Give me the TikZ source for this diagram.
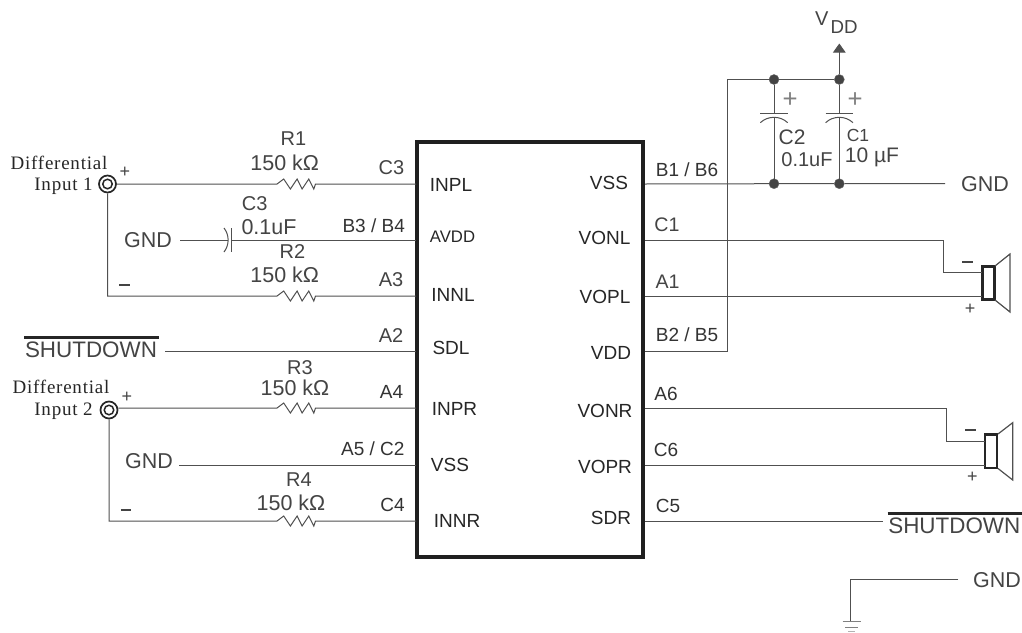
\documentclass[tikz,border=0pt]{standalone}
\usepackage{fontspec}
\setmainfont{Liberation Sans}
\newfontfamily\serifcap[LetterSpace=4]{Liberation Serif}
\usetikzlibrary{arrows.meta}
\definecolor{ink}{HTML}{444444}
\definecolor{wirec}{HTML}{505050}
\newcommand{\rzig}{-- ++(6.7,-5) -- ++(6.7,10) -- ++(6.7,-10) -- ++(5,10) -- ++(6.7,-10) -- ++(5,10) -- ++(1.7,-5)}
\tikzset{
  wire/.style={draw=wirec,line width=1pt,line cap=butt,line join=miter},
  lab/.style={inner sep=0pt,text=ink,font=\fontsize{21.5}{24}\selectfont},
  smalllab/.style={inner sep=0pt,text=black!80,font=\fontsize{19}{22}\selectfont},
  pinname/.style={inner sep=0pt,text=black!85,font=\fontsize{19}{22}\selectfont},
  diff/.style={inner sep=0pt,text=black!85,font=\serifcap\fontsize{19}{21}\selectfont},
  dot/.style={circle,fill=ink,draw=black!60,minimum size=10pt,inner sep=0pt},
  sign/.style={inner sep=0pt,text=ink,font=\fontsize{18}{20}\selectfont},
  minus/.style={inner sep=0pt,text=ink},
  chipbox/.style={draw=black!88,line width=3.6pt,minimum width=226pt,minimum height=415pt,inner sep=0pt},
  jack/.style={circle,draw=black!85,line width=1.7pt,minimum size=17pt,inner sep=0pt},
  jackin/.style={circle,draw=black!85,line width=1.5pt,minimum size=9.5pt,inner sep=0pt},
  over/.style={line width=3pt,draw=black!85},
  spk/.style={draw=black!85,line width=2.7pt},
}
\begin{document}
\begin{tikzpicture}[x=1pt,y=-1pt]
\useasboundingbox[fill=white] (0,0) rectangle (1022,632);
% chip
\node[chipbox] (chip) at (530,349.5) {};
\foreach \n/\y in {a/184,b/240,c/296,d/351,e/408,f/465,g/521}{
  \coordinate (L\n) at (416,\y);
  \coordinate (R\n) at (645,\y);
}
% pin names
\node[pinname] (pINPL) at (451,185) {INPL};
\node[pinname,font=\fontsize{16.7}{19}\selectfont] (pAVDD) at (452.5,237) {AVDD};
\node[pinname] (pINNL) at (453,294.5) {INNL};
\node[pinname] (pSDL) at (451,348) {SDL};
\node[pinname] (pINPR) at (454.5,408.5) {INPR};
\node[pinname] (pVSSl) at (450,465) {VSS};
\node[pinname] (pINNR) at (457,521) {INNR};
\node[pinname] (pVSSr) at (609,183) {VSS};
\node[pinname] (pVONL) at (604.5,238) {VONL};
\node[pinname] (pVOPL) at (605,296.5) {VOPL};
\node[pinname] (pVDD) at (611,353) {VDD};
\node[pinname] (pVONR) at (605,410.5) {VONR};
\node[pinname] (pVOPR) at (605,467) {VOPR};
\node[pinname] (pSDR) at (611,518) {SDR};
% left labels
\node[lab,font=\fontsize{20}{22}\selectfont] (tR1) at (293.5,139) {R1};
\node[lab] (v1) at (284.7,163) {150 kΩ};
\node[lab,font=\fontsize{20}{22}\selectfont] (tC3) at (391.5,168) {C3};
\node[lab,font=\fontsize{20}{22}\selectfont] (tC3c) at (254.7,204) {C3};
\node[lab] (tC3v) at (269,227) {0.1uF};
\node[smalllab] (tB3) at (373.7,226) {B3 / B4};
\node[lab] (tGa) at (148,240) {GND};
\node[lab,font=\fontsize{20}{22}\selectfont] (tR2) at (292.5,252) {R2};
\node[lab] (v2) at (284.7,275) {150 kΩ};
\node[lab,font=\fontsize{20}{22}\selectfont] (tA3) at (391,280) {A3};
\node[lab,font=\fontsize{20}{22}\selectfont] (tA2) at (391,336) {A2};
\node[lab,font=\fontsize{22.4}{25}\selectfont] (sdL) at (91,350) {SHUTDOWN};
\node[lab,font=\fontsize{20}{22}\selectfont] (tR3) at (300,368) {R3};
\node[lab] (v3) at (295,388) {150 kΩ};
\node[smalllab] (tA4) at (391.5,392) {A4};
\node[smalllab] (tA5) at (372.8,449) {A5 / C2};
\node[lab] (tGb) at (149,461) {GND};
\node[lab,font=\fontsize{20}{22}\selectfont] (tR4) at (299,480) {R4};
\node[lab] (v4) at (291,503) {150 kΩ};
\node[smalllab] (tC4) at (392.5,505) {C4};
% differential inputs
\node[diff] (d1) at (59,162.5) {Differential};
\node[diff] (i1) at (63.5,186.5) {Input 1};
\node[diff] (d2) at (61,386.5) {Differential};
\node[diff] (i2) at (63.5,411.5) {Input 2};
\node[jack] (j1) at (107.5,184) {};
\node[jackin] (j1i) at (107.5,184) {};
\node[jack] (j2) at (109,410) {};
\node[jackin] (j2i) at (109,410) {};
\node[sign] (sa) at (125,172) {+};
\node[minus] (sb) at (124.7,284.6) {\rule{10.5pt}{2pt}};
\node[sign] (sc) at (127,397) {+};
\node[minus] (sd) at (126,509.5) {\rule{10.5pt}{2pt}};
% left wiring
\coordinate (c1) at (277,184);
\coordinate (c2) at (277,296);
\coordinate (c3) at (277,408);
\coordinate (c4) at (277,521);
\draw[wire] (j1.east) -- (c1) \rzig -- (La);
\draw[wire] (j1.south) |- (c2) \rzig -- (Lc);
\draw[wire] (j2.east |- Le) -- (c3) \rzig -- (Le);
\draw[wire] (j2.south) |- (c4) \rzig -- (Lg);
\coordinate (gaE) at (180,240);
\coordinate (capA) at (228,240);
\coordinate (capB) at (231.7,240);
\coordinate (capAt) at (224,228);
\coordinate (capAb) at (224,252);
\coordinate (capBt) at (231.7,228);
\coordinate (capBb) at (231.7,252);
\draw[wire] (gaE) -- (capA);
\draw[wire] (capAt) .. controls (229.5,235) and (229.5,245) .. (capAb);
\draw[wire] (capBt) -- (capBb);
\draw[wire] (capB) -- (Lb);
\coordinate (sdE) at (165,351);
\draw[wire] (sdE) -- (Ld);
\coordinate (sdLa) at (24,337);
\coordinate (sdLb) at (159,337);
\draw[over] (sdLa) -- (sdLb);
\coordinate (gbE) at (179,465);
\draw[wire] (gbE) -- (Lf);
% right pin labels
\node[smalllab] (tB1) at (687,170) {B1 / B6};
\node[smalllab,font=\fontsize{19.6}{22}\selectfont,text=ink] (tC1p) at (667,225) {C1};
\node[smalllab,font=\fontsize{19.6}{22}\selectfont,text=ink] (tA1p) at (667.5,282) {A1};
\node[smalllab] (tB2) at (687,335) {B2 / B5};
\node[smalllab] (tA6) at (666,394) {A6};
\node[smalllab] (tC6) at (666,450) {C6};
\node[smalllab] (tC5) at (668,506) {C5};
% VDD network
\node[dot] (n1) at (774,79.5) {};
\node[dot] (n2) at (839.3,79.5) {};
\node[dot] (n3) at (774,183.7) {};
\node[dot] (n4) at (839.3,183.7) {};
\coordinate (vc) at (727,351);
\coordinate (vt) at (727,79.5);
\draw[wire] (Rd) -- (vc) -- (vt) -- (n1) -- (n2);
\coordinate (vdd) at (839.3,43.5);
\draw[wire,-{Triangle[length=9pt,width=12.5pt]}] (n2) -- (vdd);
\node[inner sep=0pt,text=ink,font=\fontsize{20}{22}\selectfont] (tV) at (821.7,19) {V};
\node[inner sep=0pt,text=ink,font=\fontsize{18.7}{21}\selectfont] (tDD) at (844,27.5) {DD};
\coordinate (gndE) at (945,183.7);
\draw[wire] (Ra) -- (n3) -- (n4) -- (gndE);
\node[lab] (tGc) at (985,184) {GND};
\foreach \nm/\x/\top/\bot in {q/774/n1/n3,p/839.3/n2/n4}{
  \coordinate (\nm a) at (\x,113);
  \coordinate (\nm b) at (\x,117.5);
  \coordinate (\nm l) at (\x-13.7,113);
  \coordinate (\nm r) at (\x+13.7,113);
  \coordinate (\nm cl) at (\x-13.7,122.7);
  \coordinate (\nm cr) at (\x+13.7,122.7);
  \draw[wire] (\top) -- (\nm a);
  \draw[wire] (\nm l) -- (\nm r);
  \draw[wire] (\nm cl) .. controls (\x-6,115.5) and (\x+6,115.5) .. (\nm cr);
  \draw[wire] (\nm b) -- (\bot);
}
\node[sign,text=gray,font=\fontsize{25.7}{28}\selectfont] (pl1) at (790,100) {+};
\node[sign,text=gray,font=\fontsize{25.7}{28}\selectfont] (pl2) at (855,100) {+};
\node[lab,font=\fontsize{21}{24}\selectfont] (tC2) at (792,137) {C2};
\node[lab,font=\fontsize{20}{23}\selectfont] (tC2v) at (807,160) {0.1uF};
\node[lab,font=\fontsize{17.5}{20}\selectfont] (tC1) at (858,135) {C1};
\node[lab,font=\fontsize{21}{24}\selectfont] (tC1v) at (872,157) {10 µF};
% speakers
\node[spk,minimum width=12.3pt,minimum height=33pt,inner sep=0pt] (s1) at (988.5,283.2) {};
\node[spk,minimum width=12pt,minimum height=33.5pt,inner sep=0pt] (s2) at (991,451.3) {};
\coordinate (s1a) at (943.3,240);
\coordinate (s1b) at (943.3,272.7);
\coordinate (s1c) at (982,272.7);
\coordinate (s1d) at (982,296);
\draw[wire] (Rb) -- (s1a) -- (s1b) -- (s1c);
\draw[wire] (Rc) -- (s1d);
\coordinate (s2a) at (946.7,408);
\coordinate (s2b) at (946.7,441);
\coordinate (s2c) at (985,441);
\coordinate (s2d) at (985,465);
\draw[wire] (Re) -- (s2a) -- (s2b) -- (s2c);
\draw[wire] (Rf) -- (s2d);
\coordinate (k1) at (995,266);
\coordinate (k2) at (1010,254);
\coordinate (k3) at (1010,312);
\coordinate (k4) at (995,300);
\draw[wire,line width=1.2pt] (k1) -- (k2) -- (k3) -- (k4);
\coordinate (m1) at (998,434);
\coordinate (m2) at (1012.7,422.7);
\coordinate (m3) at (1012.7,480);
\coordinate (m4) at (998,468.5);
\draw[wire,line width=1.2pt] (m1) -- (m2) -- (m3) -- (m4);
\node[minus] (se) at (967.7,261.7) {\rule{11pt}{2pt}};
\node[sign] (sf) at (970,309.3) {+};
\node[minus] (sg) at (970.7,430) {\rule{11pt}{2pt}};
\node[sign] (sh) at (972.3,477.3) {+};
% bottom right
\coordinate (sdrE) at (882.7,521);
\draw[wire] (Rg) -- (sdrE);
\node[lab,font=\fontsize{22.4}{25}\selectfont] (sdR) at (954.3,526) {SHUTDOWN};
\coordinate (oa) at (887.7,513.3);
\coordinate (ob) at (1022,513.3);
\draw[over] (oa) -- (ob);
\node[lab] (tGd) at (997,579.7) {GND};
\coordinate (ge) at (958.3,579.3);
\coordinate (gc) at (850.7,579.3);
\coordinate (gb) at (850.7,621);
\draw[wire] (ge) -- (gc) -- (gb);
\coordinate (g1) at (842.7,621);
\coordinate (g2) at (860.7,621);
\coordinate (g3) at (845,627);
\coordinate (g4) at (858,627);
\coordinate (g5) at (848,631);
\coordinate (g6) at (855,631);
\draw[wire,draw=gray] (g1) -- (g2);
\draw[wire,draw=gray] (g3) -- (g4);
\draw[wire,draw=gray!60] (g5) -- (g6);
\end{tikzpicture}
\end{document}
